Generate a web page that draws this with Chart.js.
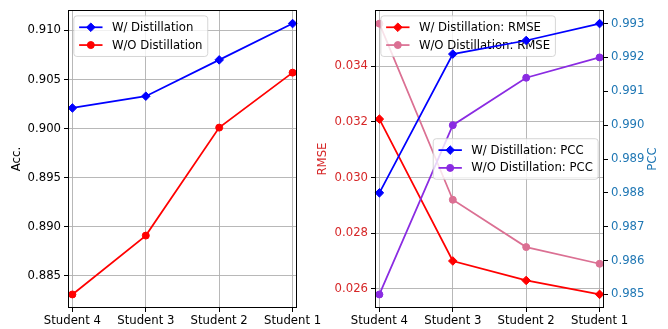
<!DOCTYPE html>
<html>
<head>
<meta charset="utf-8">
<script src="https://cdn.jsdelivr.net/npm/chart.js@4.4.1/dist/chart.umd.min.js"></script>
<style>
  html, body { margin: 0; padding: 0; background: #fff; }
  #wrap { position: relative; width: 668px; height: 329px; }
  #wrap canvas { position: absolute; left: 0; top: 0; }
</style>
</head>
<body>
<div id="wrap">
  <canvas id="accChart" width="668" height="329"></canvas>
  <canvas id="regChart" width="668" height="329"></canvas>
</div>
<script>
// data
const students = ["Student 4", "Student 3", "Student 2", "Student 1"];
const accWith = [0.9021, 0.9033, 0.9070, 0.9107];
const accWithout = [0.8831, 0.8891, 0.9001, 0.9057];
const rmseWith = [0.0321, 0.0270, 0.0263, 0.0258];
const rmseWithout = [0.03553, 0.0292, 0.0275, 0.0269];
const pccWith = [0.9880, 0.9921, 0.9925, 0.9930];
const pccWithout = [0.9850, 0.9900, 0.9914, 0.9920];
const accTicks = [0.885, 0.890, 0.895, 0.900, 0.905, 0.910];
const rmseTicks = [0.026, 0.028, 0.030, 0.032, 0.034];
const pccTicks = [0.985, 0.986, 0.987, 0.988, 0.989, 0.990, 0.991, 0.992, 0.993];

const FS = 11.7;
const FONT = "'DejaVu Sans', sans-serif";
Chart.defaults.font.family = FONT;
Chart.defaults.font.size = FS;
Chart.defaults.color = '#000';

const RED = '#d62728', BLUE = '#1f77b4';

const lineDs = (label, values, color, style, yAxisID, order) => ({
  label,
  data: values.map((v, i) => ({ x: i, y: v })),
  borderColor: color,
  backgroundColor: color,
  borderWidth: 1.75,
  pointStyle: style,
  pointRadius: style === 'circle' ? 3.5 : 4.3,
  pointBorderWidth: 1,
  yAxisID: yAxisID || 'y',
  order: order || 0,
  clip: false,
  tension: 0
});

// matplotlib like frame around the plot area
const framePlugin = {
  id: 'frame',
  afterDatasetsDraw(chart) {
    const { ctx, chartArea: a } = chart;
    ctx.save();
    ctx.strokeStyle = '#000';
    ctx.lineWidth = 1;
    ctx.strokeRect(Math.round(a.left) + 0.5, Math.round(a.top) + 0.5,
      Math.round(a.right - a.left) - 1, Math.round(a.bottom - a.top) - 1);
    ctx.restore();
  }
};

// right side axis title, read bottom to top like matplotlib
const sideTitle = {
  id: 'sideTitle',
  afterDraw(chart, args, opts) {
    if (!opts.text) return;
    const { ctx, chartArea: a } = chart;
    ctx.save();
    ctx.translate(opts.x, (a.top + a.bottom) / 2);
    ctx.rotate(-Math.PI / 2);
    ctx.font = FS + 'px ' + FONT;
    ctx.fillStyle = opts.color;
    ctx.textAlign = 'center';
    ctx.textBaseline = 'middle';
    ctx.fillText(opts.text, 0, 0);
    ctx.restore();
  }
};

function drawBox(chart, box) {
  const ctx = chart.ctx, a = chart.chartArea;
  const pad = 0.45 * FS, hl = 2 * FS, htp = 0.8 * FS, rowH = 1.52 * FS, txtH = 1.05 * FS;
  const sets = box.sets.map(i => chart.data.datasets[i]);
  ctx.save();
  ctx.font = FS + 'px ' + FONT;
  const tw = Math.max(...sets.map(d => ctx.measureText(d.label).width));
  const w = pad * 2 + hl + htp + tw;
  const h = pad * 2 + txtH + rowH * (sets.length - 1);
  const ax = 0.5 * FS;
  let x0 = a.left + ax, y0 = a.top + ax;
  if (box.loc === 'center right') {
    x0 = a.right - ax - w;
    y0 = (a.top + a.bottom) / 2 - h / 2;
  }
  ctx.beginPath();
  ctx.roundRect(x0, y0, w, h, 3);
  ctx.fillStyle = 'rgba(255,255,255,0.8)';
  ctx.fill();
  ctx.strokeStyle = 'rgba(204,204,204,0.8)';
  ctx.lineWidth = 1;
  ctx.stroke();
  sets.forEach((d, k) => {
    const cy = y0 + pad + txtH / 2 + k * rowH;
    const lx = x0 + pad;
    ctx.strokeStyle = d.borderColor;
    ctx.lineWidth = d.borderWidth;
    ctx.beginPath();
    ctx.moveTo(lx, cy);
    ctx.lineTo(lx + hl, cy);
    ctx.stroke();
    ctx.fillStyle = d.backgroundColor;
    ctx.lineWidth = 1;
    Chart.helpers.drawPoint(ctx, { pointStyle: d.pointStyle, radius: d.pointRadius, borderWidth: 1, rotation: 0 }, lx + hl / 2, cy);
    ctx.fillStyle = '#000';
    ctx.textBaseline = 'middle';
    ctx.textAlign = 'left';
    ctx.fillText(d.label, lx + hl + htp, cy + 0.5);
  });
  ctx.restore();
}

const boxLegend = {
  id: 'boxLegend',
  afterDatasetDraw(chart, args, opts) {
    (opts.boxes || []).forEach(b => { if (b.after === args.index) drawBox(chart, b); });
  },
  afterDatasetsDraw(chart, args, opts) {
    (opts.boxes || []).forEach(b => { if (b.after === undefined) drawBox(chart, b); });
  }
};

const gridStyle = { color: '#b0b0b0', lineWidth: 0.9, tickColor: '#000', tickLength: 4, tickWidth: 1 };

const xScale = (fitH) => ({
  type: 'linear',
  min: -0.06,
  max: 3.06,
  afterBuildTicks: s => { s.ticks = students.map((_, i) => ({ value: i })); },
  afterFit: s => { s.height = fitH; },
  ticks: { callback: v => students[v], autoSkip: false, maxRotation: 0, padding: 2, color: '#000' },
  grid: gridStyle,
  border: { display: false }
});

const yScale = (o) => ({
  type: 'linear',
  position: o.position,
  min: o.min,
  max: o.max,
  afterBuildTicks: s => { s.ticks = o.ticks.map(v => ({ value: v })); },
  afterFit: s => { s.width = o.width; },
  ticks: { callback: v => v.toFixed(3), autoSkip: false, padding: 3, color: o.color },
  title: { display: !!o.title, text: o.title, color: o.color, padding: o.tpad },
  grid: Object.assign({}, gridStyle, { drawOnChartArea: o.grid }),
  border: { display: false }
});

const common = {
  responsive: false,
  animation: false,
  devicePixelRatio: 1,
  events: []
};

new Chart(document.getElementById('accChart'), {
  type: 'line',
  data: {
    datasets: [
      lineDs('W/ Distillation', accWith, 'blue', 'rectRot', 'y', 1),
      lineDs('W/O Distillation', accWithout, 'red', 'circle', 'y', 0)
    ]
  },
  options: Object.assign({}, common, {
    layout: { padding: { left: 0, top: 9, right: 668 - 297, bottom: 0 } },
    scales: {
      x: xScale(21),
      y: yScale({ position: 'left', min: 0.88172, max: 0.91208, ticks: accTicks, width: 68, title: 'Acc.', color: '#000', tpad: 10, grid: true })
    },
    plugins: {
      legend: { display: false },
      tooltip: { enabled: false },
      boxLegend: { boxes: [{ sets: [0, 1], loc: 'upper left' }] }
    }
  }),
  plugins: [framePlugin, boxLegend]
});

new Chart(document.getElementById('regChart'), {
  type: 'line',
  data: {
    datasets: [
      lineDs('W/ Distillation: RMSE', rmseWith, 'red', 'rectRot', 'y', 4),
      lineDs('W/O Distillation: RMSE', rmseWithout, 'palevioletred', 'circle', 'y', 3),
      lineDs('W/ Distillation: PCC', pccWith, 'blue', 'rectRot', 'y1', 2),
      lineDs('W/O Distillation: PCC', pccWithout, 'blueviolet', 'circle', 'y1', 1)
    ]
  },
  options: Object.assign({}, common, {
    layout: { padding: { left: 310, top: 9, right: 0, bottom: 0 } },
    scales: {
      x: xScale(21),
      y: yScale({ position: 'left', min: 0.02531, max: 0.03602, ticks: rmseTicks, width: 65, title: 'RMSE', color: RED, tpad: 6, grid: true }),
      y1: yScale({ position: 'right', min: 0.9846, max: 0.9934, ticks: pccTicks, width: 64, title: '', color: BLUE, tpad: 8, grid: false })
    },
    plugins: {
      legend: { display: false },
      tooltip: { enabled: false },
      boxLegend: { boxes: [{ sets: [0, 1], loc: 'upper left', after: 1 }, { sets: [2, 3], loc: 'center right' }] },
      sideTitle: { text: 'PCC', color: BLUE, x: 653 }
    }
  }),
  plugins: [framePlugin, boxLegend, sideTitle]
});
</script>
</body>
</html>
